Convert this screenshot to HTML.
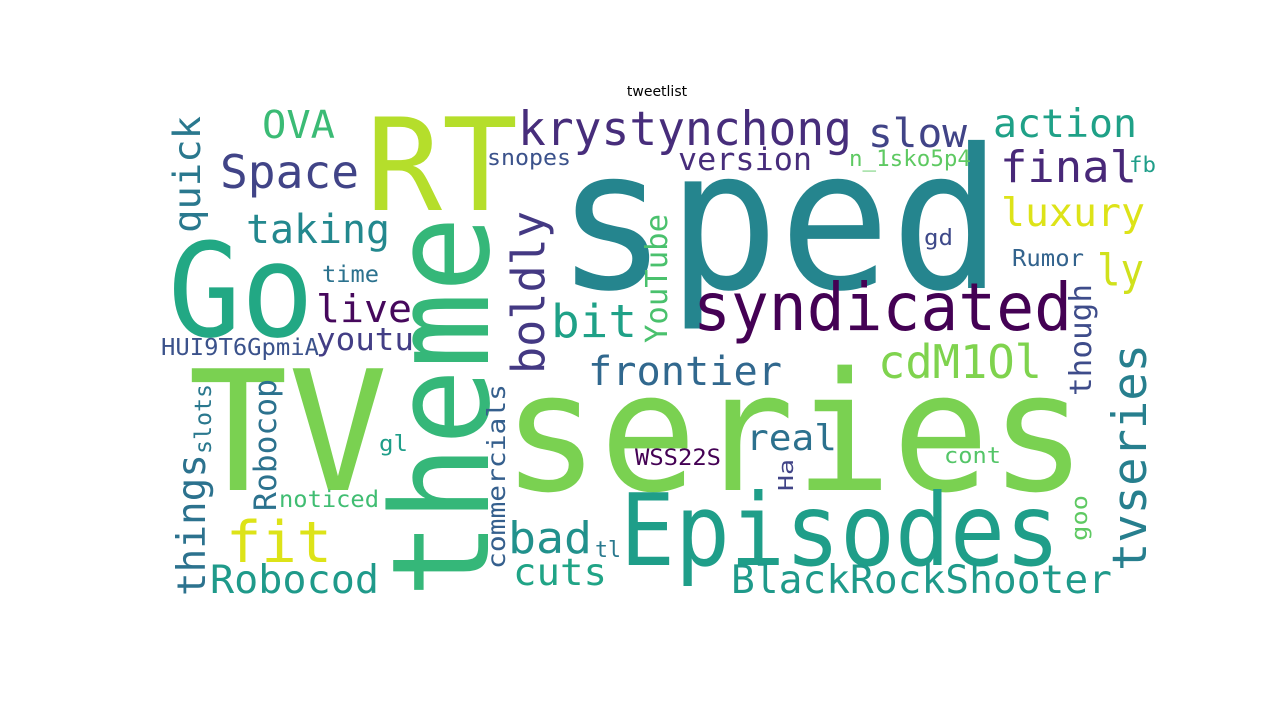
<!DOCTYPE html>
<html><head><meta charset="utf-8"><style>
html,body{margin:0;padding:0;background:#fff;width:1284px;height:701px;overflow:hidden}
svg text{font-family:"DejaVu Sans Mono","Liberation Mono",monospace}
</style></head><body>
<svg width="1284" height="701" viewBox="0 0 1284 701">
<text x="657" y="96" text-anchor="middle" style="font-family:'DejaVu Sans','Liberation Sans',sans-serif" font-size="14" fill="#000">tweetlist</text>
<g>
<text x="556" y="288" font-size="195" fill="#25858e" textLength="446" lengthAdjust="spacingAndGlyphs">sped</text>
<text x="502" y="490" font-size="165" fill="#7ad151" textLength="585" lengthAdjust="spacingAndGlyphs">series</text>
<text x="366" y="210" font-size="128" fill="#b5de2b" textLength="152" lengthAdjust="spacingAndGlyphs">RT</text>
<text x="168" y="336" font-size="130" fill="#22a884" textLength="146" lengthAdjust="spacingAndGlyphs">Go</text>
<text x="188" y="490" font-size="167" fill="#7ad151" textLength="200" lengthAdjust="spacingAndGlyphs">TV</text>
<text transform="translate(488,598) rotate(-90)" font-size="135" fill="#35b779" textLength="382" lengthAdjust="spacingAndGlyphs">theme</text>
<text x="620" y="565" font-size="100" fill="#1f9e89" textLength="440" lengthAdjust="spacingAndGlyphs">Episodes</text>
<text x="693" y="330" font-size="66" fill="#440154" textLength="379" lengthAdjust="spacingAndGlyphs">syndicated</text>
<text x="518" y="145" font-size="47" fill="#472d7b" textLength="334" lengthAdjust="spacingAndGlyphs">krystynchong</text>
<text x="220" y="188" font-size="46" fill="#414487" textLength="139" lengthAdjust="spacingAndGlyphs">Space</text>
<text x="246" y="243" font-size="40" fill="#23888e" textLength="144" lengthAdjust="spacingAndGlyphs">taking</text>
<text x="262" y="138" font-size="38" fill="#3bbb75" textLength="73" lengthAdjust="spacingAndGlyphs">OVA</text>
<text x="868" y="147" font-size="40" fill="#414487" textLength="99" lengthAdjust="spacingAndGlyphs">slow</text>
<text x="678" y="170" font-size="31" fill="#472d7b" textLength="134" lengthAdjust="spacingAndGlyphs">version</text>
<text x="993" y="137" font-size="39" fill="#1fa187" textLength="144" lengthAdjust="spacingAndGlyphs">action</text>
<text x="1000" y="182" font-size="44" fill="#482878" textLength="137" lengthAdjust="spacingAndGlyphs">final</text>
<text x="1129" y="172" font-size="21" fill="#1f9e89" textLength="27" lengthAdjust="spacingAndGlyphs">fb</text>
<text x="849" y="166" font-size="22" fill="#5ec962" textLength="122" lengthAdjust="spacingAndGlyphs">n_1sko5p4</text>
<text x="487" y="165" font-size="22" fill="#3b528b" textLength="84" lengthAdjust="spacingAndGlyphs">snopes</text>
<text x="1001" y="226" font-size="39" fill="#dde318" textLength="144" lengthAdjust="spacingAndGlyphs">luxury</text>
<text x="924" y="245" font-size="22" fill="#3e4989" textLength="29" lengthAdjust="spacingAndGlyphs">gd</text>
<text x="1012" y="266" font-size="23" fill="#33638d" textLength="72" lengthAdjust="spacingAndGlyphs">Rumor</text>
<text x="1097" y="285" font-size="44" fill="#d0e11c" textLength="47" lengthAdjust="spacingAndGlyphs">ly</text>
<text x="878" y="378" font-size="46" fill="#7fd34e" textLength="164" lengthAdjust="spacingAndGlyphs">cdM1Ol</text>
<text x="588" y="385" font-size="40" fill="#31688e" textLength="194" lengthAdjust="spacingAndGlyphs">frontier</text>
<text x="551" y="337" font-size="45" fill="#1fa187" textLength="86" lengthAdjust="spacingAndGlyphs">bit</text>
<text x="316" y="322" font-size="38" fill="#46085c" textLength="96" lengthAdjust="spacingAndGlyphs">live</text>
<text x="316" y="350" font-size="31" fill="#433e85" textLength="98" lengthAdjust="spacingAndGlyphs">youtu</text>
<text x="322" y="282" font-size="23" fill="#2c728e" textLength="57" lengthAdjust="spacingAndGlyphs">time</text>
<text x="161" y="355" font-size="23" fill="#3b528b" textLength="158" lengthAdjust="spacingAndGlyphs">HUI9T6GpmiA</text>
<text x="746" y="450" font-size="36" fill="#2c718e" textLength="91" lengthAdjust="spacingAndGlyphs">real</text>
<text x="635" y="465" font-size="22" fill="#440154" textLength="86" lengthAdjust="spacingAndGlyphs">WSS22S</text>
<text x="944" y="463" font-size="22" fill="#54c568" textLength="57" lengthAdjust="spacingAndGlyphs">cont</text>
<text x="379" y="451" font-size="22" fill="#1f9e89" textLength="29" lengthAdjust="spacingAndGlyphs">gl</text>
<text x="279" y="507" font-size="23" fill="#40bd72" textLength="100" lengthAdjust="spacingAndGlyphs">noticed</text>
<text x="226" y="562" font-size="57" fill="#dde318" textLength="106" lengthAdjust="spacingAndGlyphs">fit</text>
<text x="508" y="553" font-size="44" fill="#21918c" textLength="84" lengthAdjust="spacingAndGlyphs">bad</text>
<text x="595" y="557" font-size="22" fill="#29798e" textLength="26" lengthAdjust="spacingAndGlyphs">tl</text>
<text x="513" y="585" font-size="37" fill="#20a486" textLength="94" lengthAdjust="spacingAndGlyphs">cuts</text>
<text x="210" y="593" font-size="39" fill="#1f9a8a" textLength="169" lengthAdjust="spacingAndGlyphs">Robocod</text>
<text x="731" y="593" font-size="39" fill="#1f9a8a" textLength="381" lengthAdjust="spacingAndGlyphs">BlackRockShooter</text>
<text transform="translate(200,233) rotate(-90)" font-size="37" fill="#2a788e" textLength="117" lengthAdjust="spacingAndGlyphs">quick</text>
<text transform="translate(205,596) rotate(-90)" font-size="39" fill="#2c728e" textLength="142" lengthAdjust="spacingAndGlyphs">things</text>
<text transform="translate(211,454) rotate(-90)" font-size="23" fill="#2a788e" textLength="70" lengthAdjust="spacingAndGlyphs">slots</text>
<text transform="translate(276,511) rotate(-90)" font-size="31" fill="#2c728e" textLength="132" lengthAdjust="spacingAndGlyphs">Robocop</text>
<text transform="translate(544,374) rotate(-90)" font-size="45" fill="#443983" textLength="163" lengthAdjust="spacingAndGlyphs">boldly</text>
<text transform="translate(505,569) rotate(-90)" font-size="25" fill="#355f8d" textLength="185" lengthAdjust="spacingAndGlyphs">commercials</text>
<text transform="translate(667,343) rotate(-90)" font-size="30" fill="#4ac16d" textLength="129" lengthAdjust="spacingAndGlyphs">YouTube</text>
<text transform="translate(1091,396) rotate(-90)" font-size="30" fill="#3e4c8a" textLength="112" lengthAdjust="spacingAndGlyphs">though</text>
<text transform="translate(1146,571) rotate(-90)" font-size="47" fill="#277f8e" textLength="227" lengthAdjust="spacingAndGlyphs">tvseries</text>
<text transform="translate(793,491) rotate(-90)" font-size="20" fill="#414487" textLength="32" lengthAdjust="spacingAndGlyphs">Ha</text>
<text transform="translate(1087,541) rotate(-90)" font-size="22" fill="#5ec962" textLength="46" lengthAdjust="spacingAndGlyphs">goo</text>
</g>
</svg>
</body></html>
